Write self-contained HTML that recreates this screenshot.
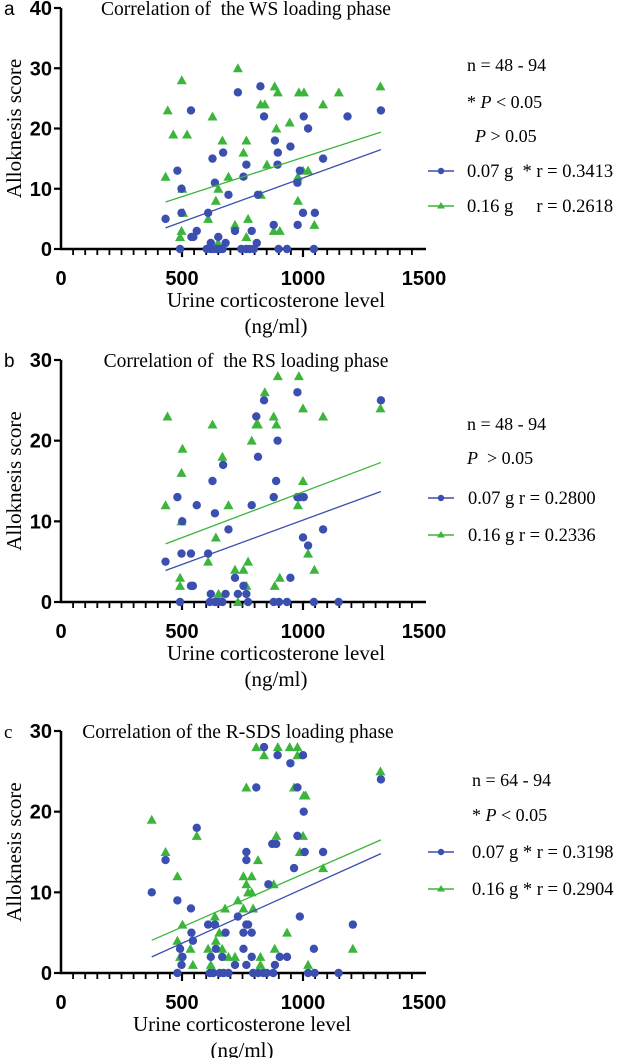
<!DOCTYPE html>
<html><head><meta charset="utf-8">
<style>
body{margin:0;background:#fff;width:620px;height:1058px;overflow:hidden}
svg{display:block}
text{white-space:pre}
.serif{font-family:"Liberation Serif",serif}
.tick{font-family:"Liberation Sans",sans-serif;font-weight:bold;font-size:20px}
</style></head><body>
<svg id="fig" width="620" height="1058" viewBox="0 0 620 1058"></svg>
<script>
// ---------- Panel a data ----------
const aBlueX=[432,481,498,498,492,537,539,547,561,608,619,626,636,650,670,692,680,719,731,754,766,788,814,809,824,839,884,895,896,879,948,977,987,978,1003,1000,1021,1049,1083,1184,1322,602,619,632,645,660,668,745,765,780,797,899,934,1045];
const aBlueY=[5,13,10,6,0,23,2,2,3,6,1,15,11,2,16,9,1,3,26,12,14,3,9,1,27,22,18,14,16,4,17,11,13,4,22,6,20,6,15,22,23,0,0,0,0,0,0,0,0,0,0,0,0,0];
const aGreenX=[432,441,464,499,501,505,498,492,521,608,626,640,650,667,692,649,719,731,754,766,773,766,826,825,842,851,879,883,890,896,904,945,979,979,983,1004,1000,1021,1047,1083,1148,1320];
const aGreenY=[12,23,19,28,10,6,3,2,19,5,22,8,10,18,12,1,4,30,16,18,5,2,9,24,24,14,3,27,20,26,3,21,12,8,26,26,13,13,4,24,26,27];
const aFitX=[432,1322];
const aFitBlue=[3.5,16.5];
const aFitGreen=[7.8,19.4];
const aYTicks=[0,10,20,30,40];
// ---------- Panel b data ----------
const bBlueX=[432,481,501,498,492,537,537,545,561,608,619,626,636,670,692,680,719,731,754,766,788,807,839,814,879,889,895,977,977,987,1003,1000,1021,948,1083,1322,615,636,649,667,773,879,901,934,1045,1147];
const bBlueY=[5,13,10,6,0,6,2,2,12,6,1,15,11,17,9,1,3,1,2,1,12,23,25,18,13,15,20,26,13,13,13,8,7,3,9,25,0,0,0,0,0,0,0,0,0,0];
const bGreenX=[432,440,502,498,498,492,492,608,626,640,667,692,651,719,731,754,773,766,788,807,814,842,879,890,896,904,883,979,983,1000,1000,1021,1047,1083,1320];
const bGreenY=[12,23,19,10,16,3,2,5,22,8,18,12,1,4,0,4,5,2,20,22,22,26,23,22,28,3,2,12,28,24,15,6,4,23,24];
const bFitX=[432,1322];
const bFitBlue=[3.9,13.7];
const bFitGreen=[7.2,17.3];
const bYTicks=[0,10,20,30];
// ---------- Panel c data ----------
const cBlueX=[375,432,481,537,539,545,561,492,502,498,481,608,619,636,640,666,680,719,731,754,754,766,773,766,766,766,788,788,807,839,857,873,889,895,904,884,934,948,963,977,977,987,1000,1003,1007,1083,1045,1206,1322,615,629,656,672,692,794,815,836,850,877,1021,1048,1147];
const cBlueY=[10,14,9,8,5,4,18,3,2,1,0,6,2,6,3,2,5,1,7,3,5,6,6,15,14,1,5,2,23,28,11,16,16,27,2,1,2,26,13,23,17,7,27,20,15,15,3,6,24,0,0,0,0,0,0,0,0,0,0,0,0,0];
const cGreenX=[375,432,481,502,481,492,535,545,561,608,619,636,640,654,666,678,692,719,731,754,754,766,766,773,788,788,794,807,814,824,824,839,879,883,896,890,934,945,963,977,977,987,1000,1003,1011,1021,1083,1206,1320];
const cGreenY=[19,15,12,6,4,2,3,1,17,3,1,7,4,5,3,8,2,2,9,12,8,23,11,10,12,10,8,28,14,2,1,27,11,3,28,17,5,28,23,28,27,15,17,22,22,1,13,3,25];
const cFitX=[375,1322];
const cFitBlue=[2.0,14.8];
const cFitGreen=[4.05,16.5];
const cYTicks=[0,10,20,30];
const xTicks=[0,500,1000,1500];

const NS='http://www.w3.org/2000/svg';
const svg=document.getElementById('fig');
const BLUE='#3b4fb0', GREEN='#3cb53c';
function mk(tag,attrs,parent){const e=document.createElementNS(NS,tag);for(const k in attrs)e.setAttribute(k,attrs[k]);(parent||svg).appendChild(e);return e;}

function panel(p){
  const g=mk('g',{});
  
  
  const x0=61,x1=424;
  const sx=v=>x0+(v/1500)*(x1-x0);
  const ymax=p.yTicks[p.yTicks.length-1];
  const sy=v=>p.yBase-(v/ymax)*(p.yBase-p.yTop);
  const ya=mk('line',{x1:x0,y1:p.yTop,x2:x0,y2:p.yBase+1,stroke:'#000','stroke-width':2.5},g);
  
  
  const xa=mk('line',{x1:x0-1,y1:p.yBase,x2:x1+2,y2:p.yBase,stroke:'#000','stroke-width':2.5},g);
  
  
  for(let v=50;v<1500;v+=50){
    const major=v%500===0;
    const t=mk('line',{x1:sx(v),y1:p.yBase,x2:sx(v),y2:p.yBase+(major?8:6),stroke:'#000','stroke-width':major?2.2:1.8},g);
    
    
  }
  xTicks.forEach(v=>{
    const t=mk('text',{x:sx(v),y:p.yBase+36,'text-anchor':'middle',class:'tick'},g);
    t.textContent=v;
    
    
  });
  p.yTicks.forEach(v=>{
    const l=mk('line',{x1:x0-7,y1:sy(v),x2:x0,y2:sy(v),stroke:'#000','stroke-width':2.2},g);
    
    
    const t=mk('text',{x:x0-9,y:sy(v)+7,'text-anchor':'end',class:'tick'},g);
    t.textContent=v;
    
    
  });
  p.gx.forEach((v,i)=>{
    const cx=sx(v),cy=sy(p.gy[i]);
    const tri=mk('polygon',{points:`${cx},${cy-5} ${cx-5},${cy+4} ${cx+5},${cy+4}`,fill:GREEN},g);
    
    
  });
  p.bx.forEach((v,i)=>{
    const c=mk('circle',{cx:sx(v),cy:sy(p.by[i]),r:4.2,fill:BLUE},g);
    
    
  });
  const fg=mk('line',{x1:sx(p.fx[0]),y1:sy(p.fg[0]),x2:sx(p.fx[1]),y2:sy(p.fg[1]),stroke:GREEN,'stroke-width':1.3},g);
  
  
  const fb=mk('line',{x1:sx(p.fx[0]),y1:sy(p.fb[0]),x2:sx(p.fx[1]),y2:sy(p.fb[1]),stroke:BLUE,'stroke-width':1.3},g);
  
  
  const lab=mk('text',{x:4,y:p.yTop+7,style:'font-family:'+(p.id==='c'?'Liberation Serif,serif':'Liberation Sans,sans-serif')+';font-size:19px'},g);
  lab.textContent=p.id;
  
  
  const ti=mk('text',{x:p.titleX,y:p.yTop+7,class:'serif','font-size':19.5,'text-anchor':'middle'},g);
  ti.textContent=p.title;
  
  
  const yt=mk('text',{x:0,y:0,class:'serif','font-size':21,'text-anchor':'middle',transform:`translate(21,${(p.yTop+p.yBase)/2}) rotate(-90)`},g);
  yt.textContent='Alloknesis score';
  
  
  const xt=mk('text',{x:p.xtX,y:p.yBase+58,class:'serif','font-size':21,'text-anchor':'middle'},g);
  xt.textContent='Urine corticosterone level';
  
  
  const xt2=mk('text',{x:p.xtX,y:p.yBase+84,class:'serif','font-size':21,'text-anchor':'middle'},g);
  xt2.textContent='(ng/ml)';
  
  
  p.notes.forEach(n=>{
    const t=mk('text',{x:n[0],y:n[1],class:'serif','font-size':18},g);
    t.innerHTML=n[2];
    
    
  });
  p.leg.forEach((L,i)=>{
    const col=i===0?BLUE:GREEN;
    const ly=L[1]-6;
    const ln=mk('line',{x1:428,y1:ly,x2:454,y2:ly,stroke:col,'stroke-width':1.5},g);
    
    
    if(i===0){const m=mk('circle',{cx:441,cy:ly,r:3.2,fill:col},g);}
    else{const m=mk('polygon',{points:`441,${ly-4} 437,${ly+2.5} 445,${ly+2.5}`,fill:col},g);}
    const t=mk('text',{x:L[0],y:L[1],class:'serif','font-size':18.5},g);
    t.textContent=L[2];
    
    
  });
}
panel({id:'a',yTop:8,yBase:249,yTicks:aYTicks,bx:aBlueX,by:aBlueY,gx:aGreenX,gy:aGreenY,fx:aFitX,fb:aFitBlue,fg:aFitGreen,
  title:'Correlation of  the WS loading phase',titleX:246,xtX:276,
  notes:[[467,71,'n = 48 - 94'],[467,108,'* <tspan font-style="italic">P</tspan> &lt; 0.05'],[475,142,'<tspan font-style="italic">P</tspan> &gt; 0.05']],
  leg:[[467,177,'0.07 g  * r = 0.3413'],[467,212,'0.16 g     r = 0.2618']]});
panel({id:'b',yTop:360,yBase:602,yTicks:bYTicks,bx:bBlueX,by:bBlueY,gx:bGreenX,gy:bGreenY,fx:bFitX,fb:bFitBlue,fg:bFitGreen,
  title:'Correlation of  the RS loading phase',titleX:246,xtX:276,
  notes:[[467,430,'n = 48 - 94'],[467,464,'<tspan font-style="italic">P</tspan>  &gt; 0.05']],
  leg:[[468,504,'0.07 g r = 0.2800'],[468,541,'0.16 g r = 0.2336']]});
panel({id:'c',yTop:731,yBase:973,yTicks:cYTicks,bx:cBlueX,by:cBlueY,gx:cGreenX,gy:cGreenY,fx:cFitX,fb:cFitBlue,fg:cFitGreen,
  title:'Correlation of the R-SDS loading phase',titleX:238,xtX:242,
  notes:[[472,786,'n = 64 - 94'],[472,821,'* <tspan font-style="italic">P</tspan> &lt; 0.05']],
  leg:[[472,858,'0.07 g * r = 0.3198'],[472,895,'0.16 g * r = 0.2904']]});
</script>
</body></html>
